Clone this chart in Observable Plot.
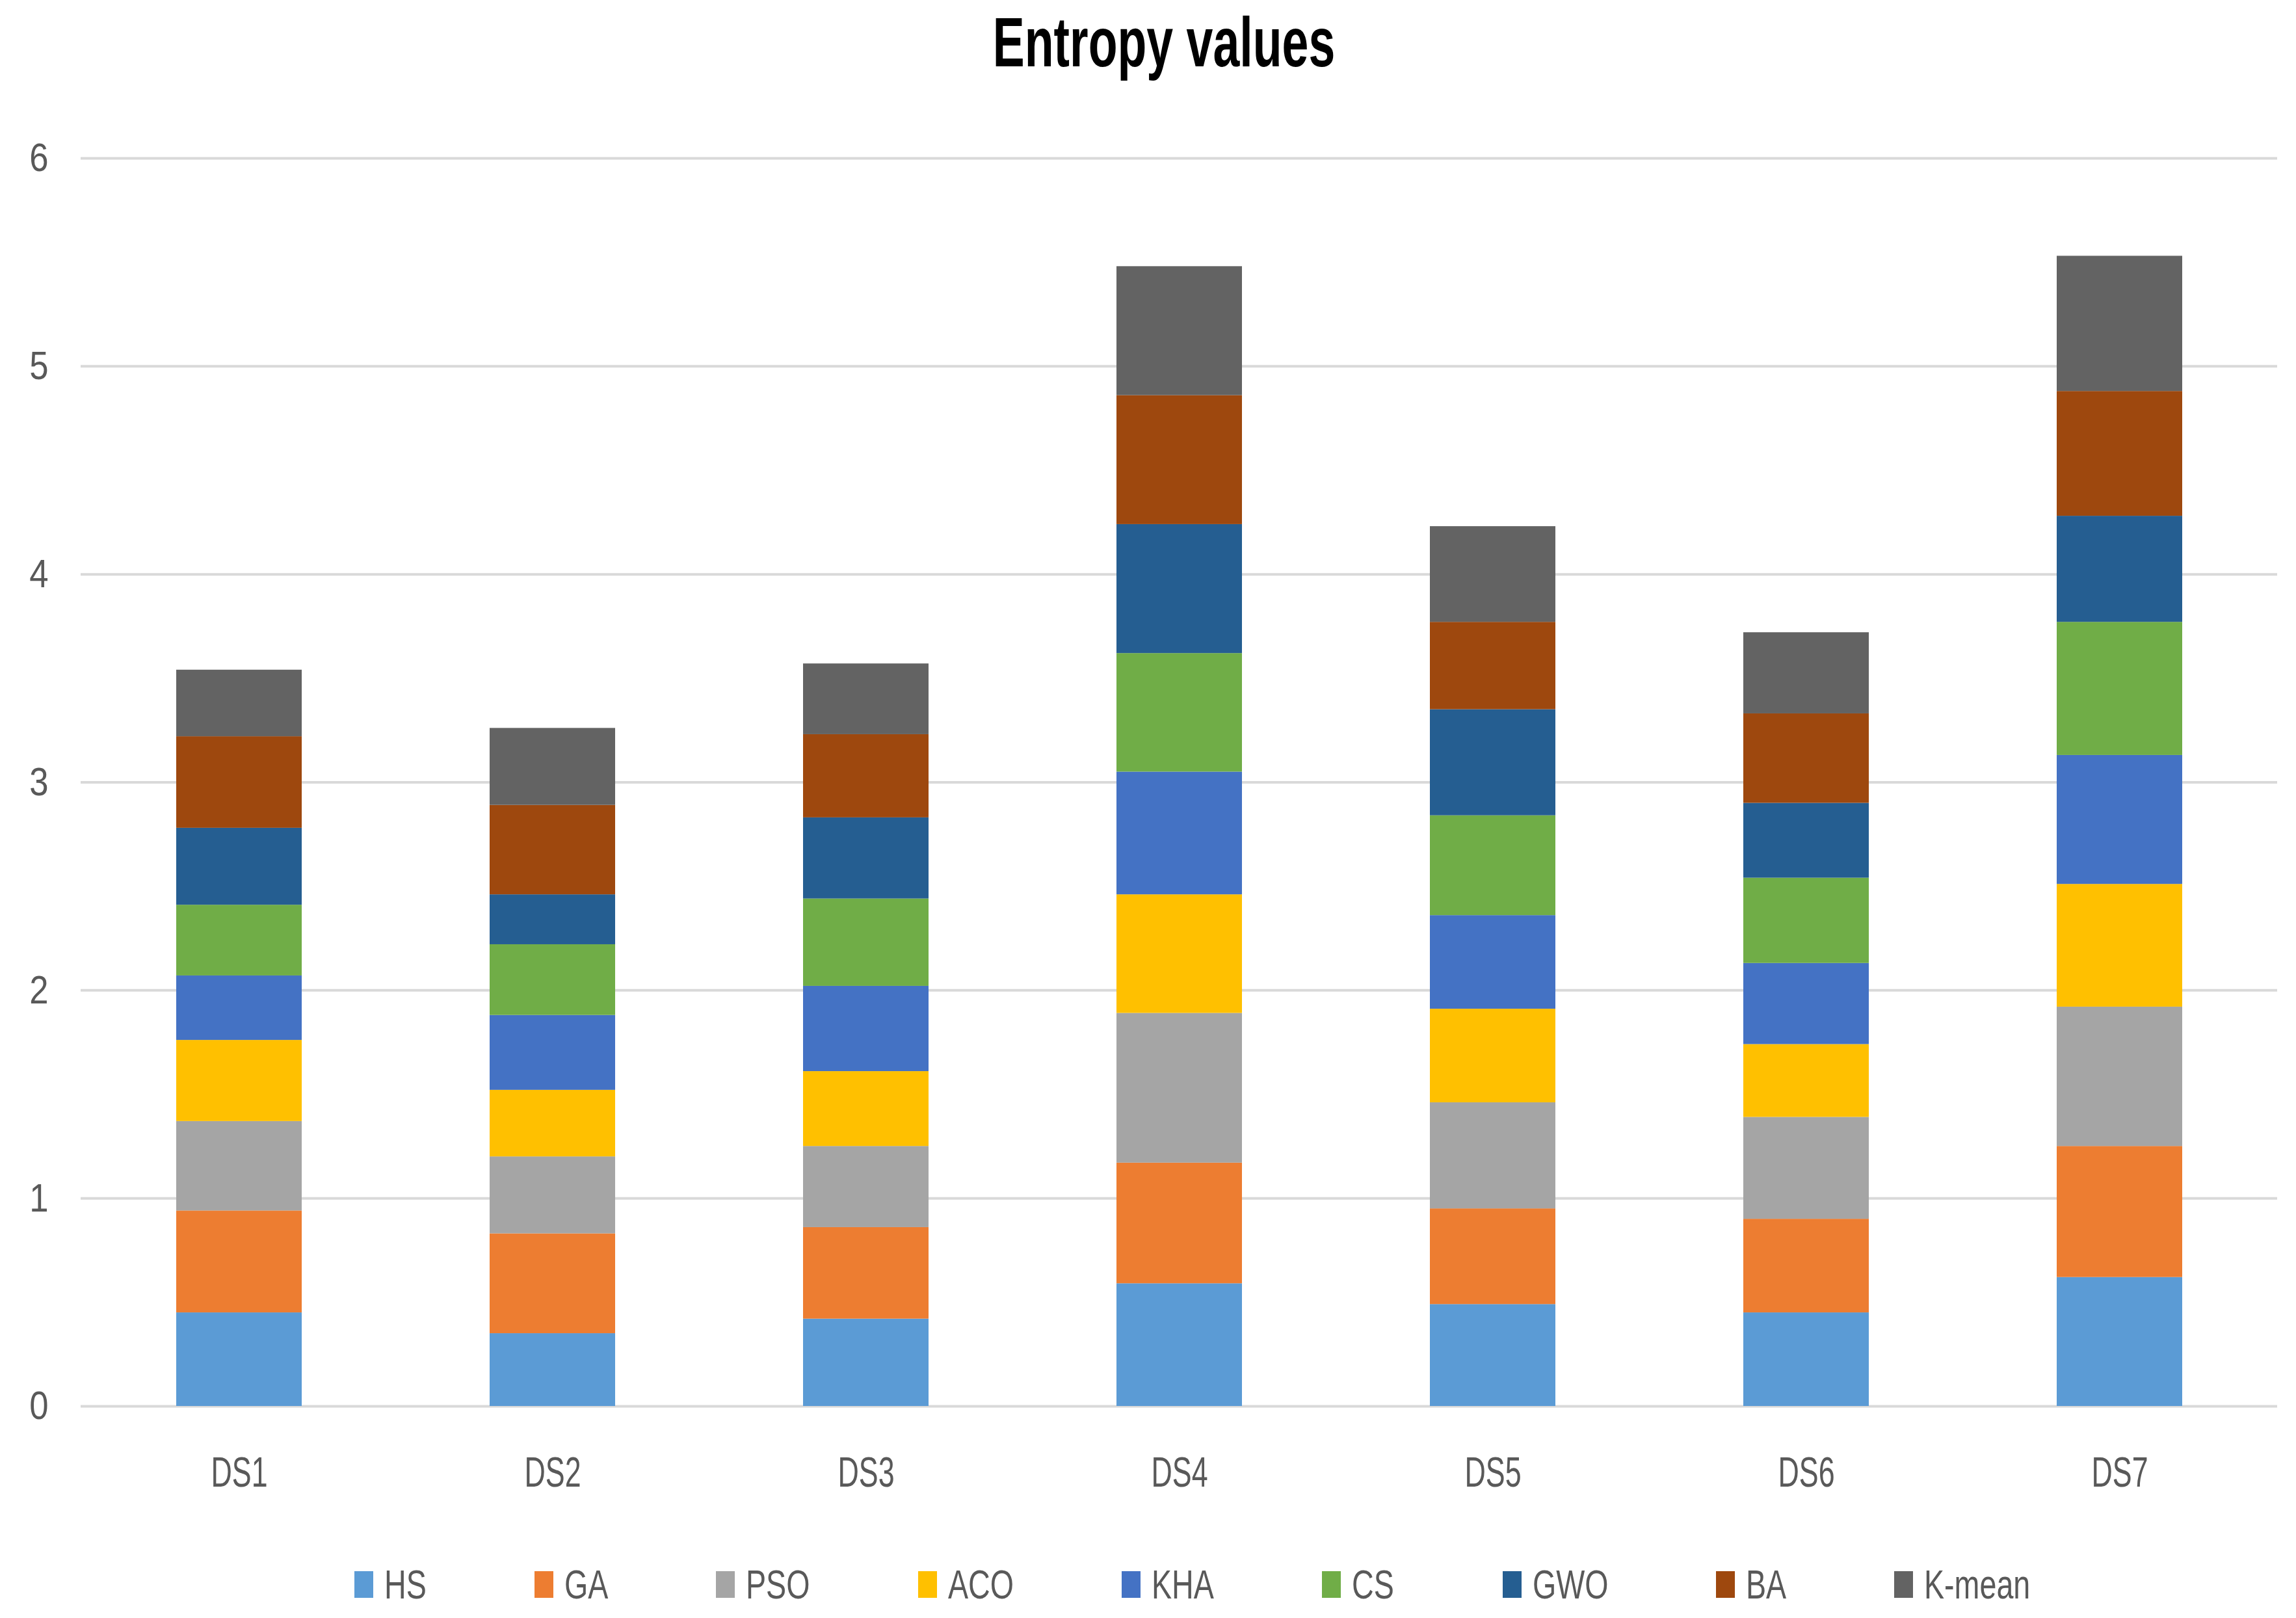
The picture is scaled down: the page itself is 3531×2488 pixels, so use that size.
<!DOCTYPE html>
<html>
<head>
<meta charset="utf-8">
<script src="https://cdn.jsdelivr.net/npm/d3@7"></script>
<script src="https://cdn.jsdelivr.net/npm/@observablehq/plot@0.6"></script>
<style>
  html, body { margin: 0; padding: 0; background: #fff; }
  body { width: 3531px; height: 2488px; position: relative; overflow: hidden;
         font-family: "Liberation Sans", Arial, sans-serif; }
  #title { position: absolute; left: 1790px; top: 11px; font-size: 108px; line-height: 108px;
           font-weight: bold; color: #000; white-space: nowrap;
           transform: translateX(-50%) scaleX(0.68); transform-origin: center; }
  #chart { position: absolute; left: 0; top: 150px; }
  #legend { position: absolute; left: 545px; top: 2416px; height: 41px; display: flex; align-items: center; gap: 166px; }
  .item { display: flex; align-items: center; }
  .sw { width: 29px; height: 41px; margin-right: 17px; flex: none; }
  .lab { display: inline-block; font-size: 63px; line-height: 41px; color: #595959; white-space: nowrap;
         transform: scaleX(0.74); transform-origin: left center; }
</style>
</head>
<body>
<div id="title">Entropy values</div>
<div id="chart"></div>
<div id="legend"></div>
<script>
const datasets = ["DS1", "DS2", "DS3", "DS4", "DS5", "DS6", "DS7"];
const methods = ["HS", "GA", "PSO", "ACO", "KHA", "CS", "GWO", "BA", "K-mean"];
const colors = ["#5B9BD5", "#ED7D31", "#A5A5A5", "#FFC000", "#4472C4", "#70AD47", "#255E91", "#9E480E", "#636363"];
const yTicks = [0, 1, 2, 3, 4, 5, 6];

const HS    = [0.45, 0.35, 0.42, 0.59, 0.49, 0.45, 0.62];
const GA    = [0.49, 0.48, 0.44, 0.58, 0.46, 0.45, 0.63];
const PSO   = [0.43, 0.37, 0.39, 0.72, 0.51, 0.49, 0.67];
const ACO   = [0.39, 0.32, 0.36, 0.57, 0.45, 0.35, 0.59];
const KHA   = [0.31, 0.36, 0.41, 0.59, 0.45, 0.39, 0.62];
const CS    = [0.34, 0.34, 0.42, 0.57, 0.48, 0.41, 0.64];
const GWO   = [0.37, 0.24, 0.39, 0.62, 0.51, 0.36, 0.51];
const BA    = [0.44, 0.43, 0.40, 0.62, 0.42, 0.43, 0.60];
const KMEAN = [0.32, 0.37, 0.34, 0.62, 0.46, 0.39, 0.65];

const series = [HS, GA, PSO, ACO, KHA, CS, GWO, BA, KMEAN];
const data = [];
datasets.forEach((ds, i) => {
  methods.forEach((m, j) => data.push({ ds, method: m, value: series[j][i] }));
});

const chart = Plot.plot({
  width: 3531,
  height: 2180,
  marginTop: 93,
  marginBottom: 168,
  marginLeft: 124,
  marginRight: 29,
  style: { fontFamily: '"Liberation Sans", Arial, sans-serif', background: "#fff" },
  x: { domain: datasets, paddingInner: 0.6, paddingOuter: 0.3, label: null },
  y: { domain: [0, 6], label: null },
  color: { domain: methods, range: colors },
  marks: [
    Plot.gridY(yTicks, { stroke: "#D9D9D9", strokeOpacity: 1, strokeWidth: 4 }),
    Plot.barY(data, { x: "ds", y: "value", fill: "method" }),
    Plot.axisY(yTicks, { tickSize: 0, tickPadding: 50, fontSize: 62, fill: "#595959", label: null, tickFormat: d => String(d) }),
    Plot.axisX({ tickSize: 0, tickPadding: 78, fontSize: 64, fill: "#595959", label: null })
  ]
});
document.getElementById("chart").appendChild(chart);

function squeeze(sel, s) {
  chart.querySelectorAll(sel).forEach(t => {
    const tr = t.getAttribute("transform");
    if (tr) {
      t.setAttribute("transform", tr + ` scale(${s},1)`);
    } else {
      const x = +(t.getAttribute("x") || 0);
      t.setAttribute("transform", `translate(${x},0) scale(${s},1) translate(${-x},0)`);
    }
  });
}
squeeze('g[aria-label="y-axis tick label"] text', 0.85);
squeeze('g[aria-label="x-axis tick label"] text', 0.70);

const legend = document.getElementById("legend");
methods.forEach((m, j) => {
  const it = document.createElement("div");
  it.className = "item";
  const sw = document.createElement("div");
  sw.className = "sw";
  sw.style.background = colors[j];
  const box = document.createElement("div");
  const lab = document.createElement("span");
  lab.className = "lab";
  lab.textContent = m;
  box.appendChild(lab);
  it.appendChild(sw);
  it.appendChild(box);
  legend.appendChild(it);
  box.style.width = (lab.offsetWidth * 0.74) + "px";
  box.style.height = "41px";
});
</script>
</body>
</html>
